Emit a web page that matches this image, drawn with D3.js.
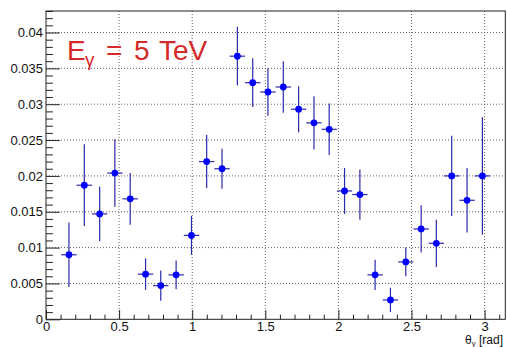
<!DOCTYPE html>
<html>
<head>
<meta charset="utf-8">
<script src="https://cdn.jsdelivr.net/npm/d3@7"></script>
<style>
  html, body { margin: 0; padding: 0; background: #fff; }
  svg { display: block; }
  text { font-family: "Liberation Sans", Arial, Helvetica, sans-serif; }
</style>
</head>
<body>
<svg id="chart" width="507" height="347"></svg>
<script>
// Photon polar angle (bin centres, rad)
const theta = [0.157, 0.262, 0.367, 0.471, 0.576, 0.681, 0.785, 0.890, 0.995, 1.099,
               1.204, 1.309, 1.414, 1.518, 1.623, 1.728, 1.833, 1.937, 2.042, 2.147,
               2.251, 2.356, 2.461, 2.566, 2.670, 2.775, 2.880, 2.985];
// Half bin width (rad)
const thetaErr = 0.0524;
// Normalised yield per bin
const yieldVal = [0.0090, 0.0187, 0.0147, 0.0204, 0.0168, 0.0063, 0.0047, 0.0062, 0.0117, 0.0220,
                  0.0210, 0.0367, 0.0330, 0.0317, 0.0324, 0.0293, 0.0274, 0.0265, 0.0179, 0.0174,
                  0.0062, 0.0027, 0.0080, 0.0126, 0.0106, 0.0200, 0.0166, 0.0200];
// Statistical uncertainty per bin
const yieldErr = [0.0045, 0.0057, 0.0038, 0.0047, 0.0036, 0.0022, 0.0021, 0.0020, 0.0027, 0.0037,
                  0.0028, 0.0041, 0.0034, 0.0033, 0.0036, 0.0032, 0.0037, 0.0036, 0.0032, 0.0035,
                  0.0021, 0.0017, 0.0020, 0.0033, 0.0033, 0.0056, 0.0045, 0.0082];
const xTicks = [0, 0.5, 1, 1.5, 2, 2.5, 3];
const yTicks = [0, 0.005, 0.01, 0.015, 0.02, 0.025, 0.03, 0.035, 0.04];
const xTickLabels = ["0", "0.5", "1", "1.5", "2", "2.5", "3"];
const yTickLabels = ["0", "0.005", "0.01", "0.015", "0.02", "0.025", "0.03", "0.035", "0.04"];

const svg = d3.select("#chart");
const L = 46, R = 505.3, T = 11, B = 319.3;

const x = d3.scaleLinear().domain([0, Math.PI]).range([L, R]);
const y = d3.scaleLinear().domain([0, 0.043]).range([B, T]);

// Grid
const grid = svg.append("g").attr("stroke", "#666").attr("stroke-width", 1).attr("stroke-dasharray", "1,2");
grid.selectAll("line.gx").data(xTicks.slice(1)).join("line")
  .attr("x1", d => x(d)).attr("x2", d => x(d)).attr("y1", T).attr("y2", B);
grid.selectAll("line.gy").data(yTicks.slice(1)).join("line")
  .attr("y1", d => y(d)).attr("y2", d => y(d)).attr("x1", L).attr("x2", R);

// Axes with ticks drawn inward
const xMinor = d3.range(1, 32).map(i => i / 10).filter(v => Math.abs(v * 2 - Math.round(v * 2)) > 1e-6);
const yMinor = d3.range(1, 44).map(i => i / 1000).filter(v => Math.abs(v * 200 - Math.round(v * 200)) > 1e-6);

const xAxis = d3.axisBottom(x).tickValues(xTicks).tickSize(-9.2).tickPadding(2.5)
  .tickFormat((d, i) => xTickLabels[i]);
const xAxisMinor = d3.axisBottom(x).tickValues(xMinor).tickSize(-4.6).tickFormat("");
const yAxis = d3.axisLeft(y).tickValues(yTicks).tickSize(-13.8).tickPadding(3)
  .tickFormat((d, i) => yTickLabels[i]);
const yAxisMinor = d3.axisLeft(y).tickValues(yMinor).tickSize(-6.9).tickFormat("");

function style(g) {
  g.select(".domain").remove();
  g.selectAll("line").attr("stroke", "#222").attr("stroke-width", 1);
  g.selectAll("text").attr("fill", "#111").attr("font-size", 13)
    .attr("font-family", "'Liberation Sans', Arial, Helvetica, sans-serif");
}
svg.append("g").attr("transform", `translate(0,${B})`).call(xAxis).call(style);
svg.append("g").attr("transform", `translate(0,${B})`).call(xAxisMinor).call(style);
svg.append("g").attr("transform", `translate(${L},0)`).call(yAxis).call(style);
svg.append("g").attr("transform", `translate(${L},0)`).call(yAxisMinor).call(style);

// Frame
svg.append("rect").attr("x", L).attr("y", T).attr("width", R - L).attr("height", B - T)
  .attr("fill", "none").attr("stroke", "#222").attr("stroke-width", 1);

// Data points with error bars
const pts = theta.map((t, i) => ({ t, v: yieldVal[i], e: yieldErr[i] }));
const g = svg.append("g");
g.selectAll("line.ey").data(pts).join("line")
  .attr("x1", d => x(d.t)).attr("x2", d => x(d.t))
  .attr("y1", d => y(d.v - d.e)).attr("y2", d => y(d.v + d.e))
  .attr("stroke", "#2a2aaa").attr("stroke-width", 1.2);
g.selectAll("line.ex").data(pts).join("line")
  .attr("x1", d => x(d.t - thetaErr)).attr("x2", d => x(d.t + thetaErr))
  .attr("y1", d => y(d.v)).attr("y2", d => y(d.v))
  .attr("stroke", "#2a2aaa").attr("stroke-width", 1.2);
g.selectAll("circle").data(pts).join("circle")
  .attr("cx", d => x(d.t)).attr("cy", d => y(d.v)).attr("r", 3.4)
  .attr("fill", "#0000ff");

// Axis title
const xt = svg.append("text").attr("x", 503).attr("y", 343.5).attr("text-anchor", "end")
  .attr("font-size", 12).attr("fill", "#111");
xt.append("tspan").text("θ");
xt.append("tspan").attr("font-size", 8).attr("dy", 2).text("γ");
xt.append("tspan").attr("dy", -2).text(" [rad]");

// Energy label
const lab = svg.append("text").attr("y", 60).attr("font-size", 28).attr("fill", "#d42a2a");
lab.append("tspan").attr("x", 67).text("E");
lab.append("tspan").attr("x", 85).attr("font-size", 19).attr("dy", 6).text("γ");
lab.append("tspan").attr("x", 106).attr("dy", -6).text("=");
lab.append("tspan").attr("x", 134).text("5");
lab.append("tspan").attr("x", 159).text("TeV");
</script>
</body>
</html>
